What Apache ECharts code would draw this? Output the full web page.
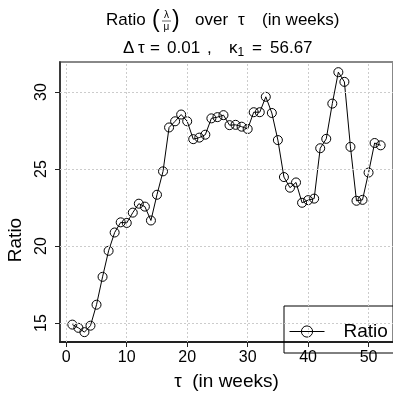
<!DOCTYPE html>
<html><head><meta charset="utf-8">
<script src="https://cdn.jsdelivr.net/npm/echarts@6/dist/echarts.min.js"></script>
<style>html,body{margin:0;padding:0;background:#fff}#c{width:393px;height:396px}</style>
</head><body><div id="c"></div>
<script>
var weeks = [1,2,3,4,5,6,7,8,9,10,11,12,13,14,15,16,17,18,19,20,21,22,23,24,25,26,27,28,29,30,31,32,33,34,35,36,37,38,39,40,41,42,43,44,45,46,47,48,49,50,51,52];
var ratio = [14.9,14.69,14.41,14.83,16.19,18.0,19.69,20.88,21.54,21.5,
             22.17,22.75,22.56,21.66,23.33,24.85,27.7,28.1,28.54,28.1,
             26.94,27.04,27.23,28.29,28.37,28.5,27.85,27.87,27.75,27.6,
             28.69,28.69,29.69,28.64,26.88,24.48,23.79,24.13,22.81,22.98,
             23.08,26.35,26.96,29.25,31.29,30.66,26.44,22.94,23.0,24.77,
             26.69,26.54];
var xTicks = [0,10,20,30,40,50];
var yTicks = [15,20,25,30];
var seriesName = 'Ratio';

var FF = 'Liberation Sans, Arial, Helvetica, sans-serif';
var chart = echarts.init(document.getElementById('c'), null, {renderer:'canvas'});
var pts = weeks.map(function(w,i){return [w, ratio[i]];});
function t(x, y, s, fs, extra, rot){
  var st = {text:s, fontFamily:FF, fontSize:fs, fill:'#000', verticalAlign:'middle'};
  for (var k in (extra||{})) st[k] = extra[k];
  var el = {type:'text', x:x, y:y, style:st};
  if (rot) el.rotation = rot;
  return el;
}
chart.setOption({
  animation:false,
  backgroundColor:'#fff',
  grid:{left:60, right:-3, top:62, bottom:43, show:true, borderColor:'#888', borderWidth:2, backgroundColor:'transparent'},
  xAxis:{type:'value', min:-1.04, max:54.04,
    name:'τ  (in weeks)', nameLocation:'middle', nameGap:30,
    nameTextStyle:{fontFamily:FF, fontSize:19, color:'#000'},
    axisLine:{show:true, onZero:false, lineStyle:{color:'#222', width:2}},
    axisTick:{show:true, customValues:xTicks, length:5, lineStyle:{color:'#222'}},
    axisLabel:{customValues:xTicks, fontFamily:FF, fontSize:16, color:'#000', margin:8},
    splitLine:{show:false}},
  yAxis:{type:'value', min:13.77, max:31.95,
    axisLine:{show:true, onZero:false, lineStyle:{color:'#222', width:1.5}},
    axisTick:{show:true, customValues:yTicks, length:5, lineStyle:{color:'#222'}},
    axisLabel:{customValues:yTicks, rotate:90, fontFamily:FF, fontSize:16, color:'#000', margin:10},
    splitLine:{show:false}},
  legend:{show:true, left:284, top:306, orient:'vertical',
    padding:[16,30,12,5], itemWidth:35, itemHeight:14,
    borderColor:'#000', borderWidth:1, backgroundColor:'transparent',
    textStyle:{fontFamily:FF, fontSize:19, color:'#000', padding:[0,0,0,14]},
    data:[{name:seriesName, itemStyle:{color:'transparent', borderColor:'#000', borderWidth:1}, lineStyle:{color:'#000', width:1}}]},
  series:[
    {type:'line', name:'grid', data:[], silent:true,
     markLine:{silent:true, symbol:'none', label:{show:false},
       lineStyle:{color:'#ccc', type:[2,2], width:1},
       data: xTicks.map(function(v){return {xAxis:v};}).concat(yTicks.map(function(v){return {yAxis:v};}))}},
    {type:'line', name:seriesName, data:pts, symbol:'circle', symbolSize:9,
     lineStyle:{color:'#000', width:1},
     itemStyle:{color:'transparent', borderColor:'#000', borderWidth:1}}
  ],
  graphic:[
    t(106, 20, 'Ratio', 17),
    t(152, 21, '(', 23),
    t(166.5, 15, 'λ', 10, {align:'center'}),
    {type:'line', shape:{x1:162, y1:21, x2:171, y2:21}, style:{stroke:'#000', lineWidth:0.6}},
    t(166.5, 27, 'μ', 10, {align:'center'}),
    t(172, 21, ')', 23),
    t(195, 20, 'over', 17),
    t(238, 20, 'τ', 17),
    t(262, 20, '(in weeks)', 17),
    t(123, 48, 'Δ', 17),
    t(138, 48, 'τ', 17),
    t(150, 48, '=', 17),
    t(167, 48, '0.01', 17),
    t(207, 48, ',', 17),
    t(229, 48, 'κ', 17),
    t(237.5, 53, '1', 12),
    t(252, 48, '=', 17),
    t(270, 48, '56.67', 17),
    t(16, 240, 'Ratio', 19, {align:'center'}, Math.PI/2)
  ]
});
</script>
</body></html>
